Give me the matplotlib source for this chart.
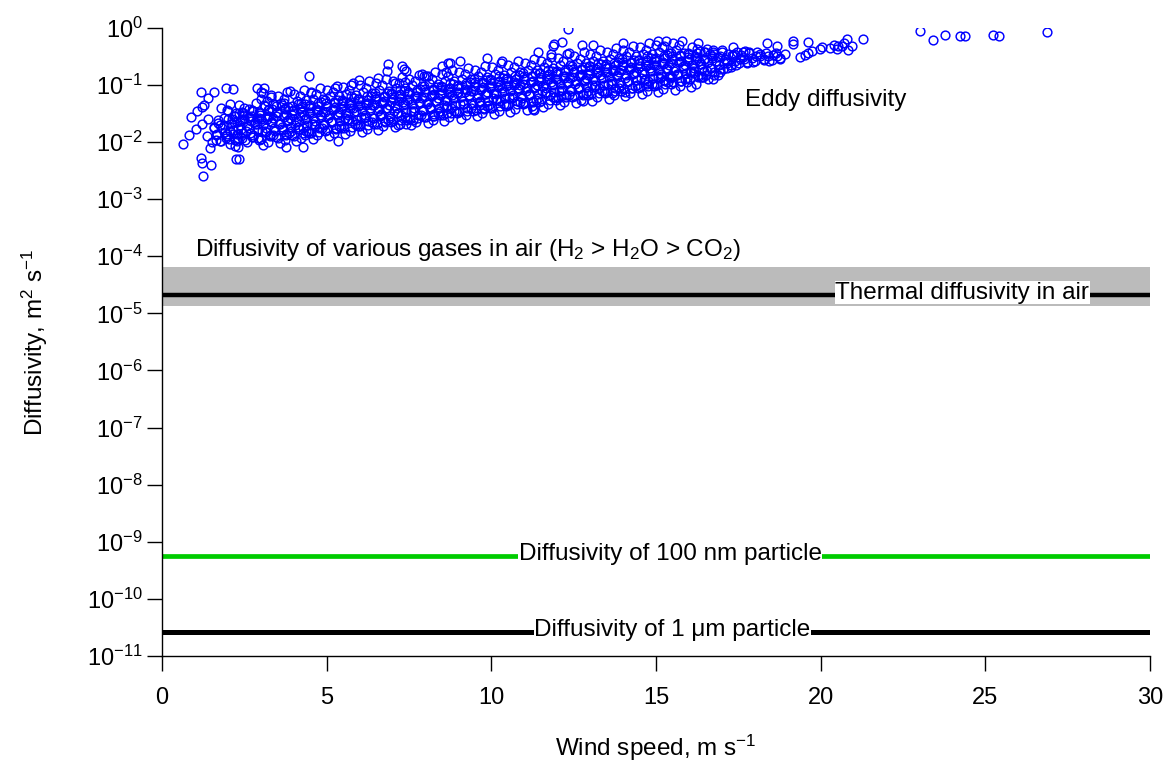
import numpy as np
import matplotlib.pyplot as plt
from matplotlib.ticker import NullLocator

plt.rcParams['font.family'] = ['Liberation Sans', 'DejaVu Sans']
plt.rcParams['mathtext.fontset'] = 'custom'
plt.rcParams['mathtext.rm'] = 'Liberation Sans'
plt.rcParams['mathtext.it'] = 'Liberation Sans:italic'
plt.rcParams['mathtext.bf'] = 'Liberation Sans:bold'

# eddy diffusivity: scattered points away from the main cloud (wind speed, m2/s)
eddy_sparse = [
    (0.64, 0.0092), (0.82, 0.013), (0.88, 0.027), (1.03, 0.017), (1.06, 0.035), (1.18, 0.075),
    (1.21, 0.041), (1.21, 0.021), (1.18, 0.0052), (1.21, 0.0043), (1.25, 0.0025), (1.28, 0.044),
    (1.37, 0.0127), (1.40, 0.025), (1.40, 0.059), (1.46, 0.0078), (1.49, 0.0040), (1.58, 0.075),
    (1.58, 0.0175), (1.64, 0.0108), (1.79, 0.039), (1.94, 0.088), (2.16, 0.085), (2.06, 0.046),
    (1.97, 0.014), (2.22, 0.0085), (2.31, 0.0082), (2.25, 0.0050), (2.34, 0.0050), (2.43, 0.034),
    (2.28, 0.0136), (2.88, 0.088), (3.01, 0.075), (3.10, 0.088), (3.07, 0.072), (3.01, 0.0112),
    (3.31, 0.061), (3.37, 0.046), (3.89, 0.078), (3.77, 0.0082), (3.70, 0.048), (4.28, 0.0082),
    (4.34, 0.013), (4.46, 0.143), (4.52, 0.072),
    (6.86, 0.23), (6.83, 0.174), (7.29, 0.21), (7.35, 0.19), (7.41, 0.174), (6.56, 0.132),
    (5.98, 0.121), (5.74, 0.099), (5.25, 0.088), (5.34, 0.0103), (7.90, 0.155), (8.08, 0.143),
    (7.96, 0.143), (8.50, 0.21), (8.62, 0.167), (8.69, 0.24), (7.38, 0.112), (7.08, 0.107),
    (7.17, 0.020), (7.41, 0.021), (7.62, 0.024), (8.23, 0.028), (8.65, 0.032),
    (11.90, 0.52), (11.86, 0.47), (12.16, 0.57), (12.75, 0.50), (13.08, 0.50), (9.86, 0.30),
    (9.05, 0.26), (8.75, 0.24), (11.43, 0.37), (11.81, 0.34), (12.36, 0.36), (11.28, 0.038),
    (10.95, 0.049), (12.79, 0.052), (12.12, 0.064), (9.66, 0.044), (12.34, 0.94), (10.32, 0.26),
    (11.30, 0.036), (15.05, 0.59), (15.23, 0.48), (15.78, 0.58), (16.29, 0.55), (16.54, 0.42),
    (15.23, 0.121), (15.73, 0.117), (16.41, 0.139), (16.95, 0.166), (17.35, 0.46), (17.65, 0.38),
    (14.0, 0.55), (17.15, 0.20), (14.06, 0.076), (13.66, 0.071), (14.72, 0.102), (15.48, 0.139),
    (16.03, 0.170),
    (18.38, 0.53), (18.68, 0.47), (19.15, 0.59), (19.17, 0.51), (19.60, 0.57), (19.37, 0.31),
    (19.53, 0.33), (19.61, 0.36), (19.75, 0.39), (19.98, 0.42), (20.05, 0.46), (20.28, 0.44),
    (20.39, 0.50), (20.49, 0.42), (20.54, 0.48), (20.64, 0.47), (20.72, 0.53), (20.79, 0.63),
    (20.84, 0.41), (20.96, 0.47), (21.30, 0.63),
    (23.02, 0.88), (23.40, 0.61), (23.76, 0.74), (24.23, 0.72), (24.39, 0.72), (25.24, 0.76),
    (25.40, 0.72), (26.87, 0.84),
]

# eddy diffusivity: the dense cloud, read strip by strip
eddy_cloud = [
    (1.52, 0.010), (1.66, 0.014), (1.58, 0.018), (1.70, 0.024),
    (1.80, 0.0105), (1.91, 0.015), (1.77, 0.020), (1.88, 0.026),
    (2.02, 0.0112), (2.16, 0.016), (2.08, 0.021), (2.20, 0.028), (1.99, 0.035),
    (2.30, 0.0117), (2.41, 0.0166), (2.27, 0.022), (2.44, 0.025), (2.33, 0.032),
    (2.52, 0.011), (2.66, 0.0145), (2.58, 0.019), (2.70, 0.0235), (2.49, 0.030), (2.63, 0.038),
    (2.77, 0.012), (2.91, 0.0166), (2.83, 0.021), (2.95, 0.026), (2.74, 0.035),
    (3.02, 0.0112), (3.16, 0.0151), (3.08, 0.020), (3.20, 0.025), (2.99, 0.032), (3.13, 0.042),
    (3.27, 0.0126), (3.41, 0.0174), (3.33, 0.022), (3.45, 0.028), (3.24, 0.037),
    (3.52, 0.0117), (3.66, 0.016), (3.58, 0.021), (3.70, 0.027), (3.49, 0.033), (3.63, 0.044),
    (3.77, 0.0132), (3.91, 0.0186), (3.83, 0.024), (3.95, 0.030), (3.74, 0.040),
    (4.02, 0.0126), (4.16, 0.0166), (4.08, 0.0224), (4.20, 0.028), (3.99, 0.035), (4.13, 0.047),
    (4.27, 0.0141), (4.41, 0.020), (4.33, 0.025), (4.45, 0.032), (4.24, 0.042), (4.38, 0.054),
    (4.52, 0.0145), (4.66, 0.019), (4.58, 0.026), (4.70, 0.034), (4.49, 0.044),
    (4.77, 0.0151), (4.91, 0.021), (4.83, 0.0275), (4.95, 0.033), (4.74, 0.042), (4.88, 0.056),
    (5.02, 0.016), (5.16, 0.0224), (5.08, 0.0295), (5.20, 0.036), (4.99, 0.048),
    (5.27, 0.0166), (5.41, 0.023), (5.33, 0.030), (5.45, 0.038), (5.24, 0.048), (5.38, 0.063),
    (5.52, 0.0174), (5.66, 0.025), (5.58, 0.032), (5.70, 0.040), (5.49, 0.052),
    (5.77, 0.018), (5.91, 0.024), (5.83, 0.033), (5.95, 0.042), (5.74, 0.050), (5.88, 0.066),
    (6.02, 0.019), (6.16, 0.027), (6.08, 0.035), (6.20, 0.044), (5.99, 0.056),
    (6.27, 0.020), (6.41, 0.026), (6.33, 0.036), (6.45, 0.045), (6.24, 0.055), (6.38, 0.072),
    (6.52, 0.021), (6.66, 0.0295), (6.58, 0.038), (6.70, 0.048), (6.49, 0.063),
    (6.77, 0.022), (6.91, 0.029), (6.83, 0.040), (6.95, 0.050), (6.74, 0.060), (6.88, 0.079),
    (7.02, 0.023), (7.16, 0.032), (7.08, 0.042), (7.20, 0.052), (6.99, 0.069),
    (7.27, 0.024), (7.41, 0.033), (7.33, 0.044), (7.45, 0.055), (7.24, 0.068), (7.38, 0.087),
    (7.52, 0.025), (7.66, 0.035), (7.58, 0.046), (7.70, 0.058), (7.49, 0.076),
    (7.77, 0.026), (7.91, 0.036), (7.83, 0.048), (7.95, 0.060), (7.74, 0.074), (7.88, 0.095),
    (8.02, 0.0275), (8.16, 0.039), (8.08, 0.050), (8.20, 0.063), (7.99, 0.083),
    (8.27, 0.029), (8.41, 0.040), (8.33, 0.052), (8.45, 0.066), (8.24, 0.081), (8.38, 0.105),
    (8.52, 0.030), (8.66, 0.043), (8.58, 0.055), (8.70, 0.069), (8.49, 0.091),
    (8.77, 0.032), (8.91, 0.044), (8.83, 0.058), (8.95, 0.072), (8.74, 0.089), (8.88, 0.115),
    (9.02, 0.033), (9.16, 0.047), (9.08, 0.060), (9.20, 0.076), (8.99, 0.100),
    (9.27, 0.035), (9.41, 0.048), (9.33, 0.063), (9.45, 0.079), (9.24, 0.098), (9.38, 0.126),
    (9.52, 0.036), (9.66, 0.051), (9.58, 0.066), (9.70, 0.083), (9.49, 0.110),
    (9.77, 0.038), (9.91, 0.052), (9.83, 0.069), (9.95, 0.087), (9.74, 0.107), (9.88, 0.138),
    (10.02, 0.040), (10.16, 0.056), (10.08, 0.072), (10.20, 0.091), (9.99, 0.120),
    (10.27, 0.042), (10.41, 0.058), (10.33, 0.076), (10.45, 0.095), (10.24, 0.117), (10.38, 0.151),
    (10.52, 0.044), (10.66, 0.062), (10.58, 0.079), (10.70, 0.100), (10.49, 0.132),
    (10.77, 0.046), (10.91, 0.063), (10.83, 0.083), (10.95, 0.105), (10.74, 0.129), (10.88, 0.166),
    (11.02, 0.048), (11.16, 0.068), (11.08, 0.087), (11.20, 0.110), (10.99, 0.145),
    (11.27, 0.050), (11.41, 0.069), (11.33, 0.091), (11.45, 0.115), (11.24, 0.141), (11.38, 0.182),
    (11.52, 0.052), (11.66, 0.074), (11.58, 0.095), (11.70, 0.120), (11.49, 0.158),
    (11.77, 0.055), (11.91, 0.076), (11.83, 0.100), (11.95, 0.126), (11.74, 0.155), (11.88, 0.200),
    (12.02, 0.058), (12.16, 0.081), (12.08, 0.105), (12.20, 0.132), (11.99, 0.174),
    (12.27, 0.060), (12.41, 0.083), (12.33, 0.110), (12.45, 0.138), (12.24, 0.170), (12.38, 0.220),
    (12.52, 0.063), (12.66, 0.089), (12.58, 0.115), (12.70, 0.145), (12.49, 0.190),
    (12.77, 0.066), (12.91, 0.091), (12.83, 0.120), (12.95, 0.151), (12.74, 0.186), (12.88, 0.240),
    (13.02, 0.069), (13.16, 0.098), (13.08, 0.126), (13.20, 0.158), (12.99, 0.210),
    (13.27, 0.072), (13.41, 0.100), (13.33, 0.132), (13.45, 0.166), (13.24, 0.204), (13.38, 0.263),
    (13.52, 0.076), (13.66, 0.107), (13.58, 0.138), (13.70, 0.174), (13.49, 0.230),
    (13.77, 0.079), (13.91, 0.110), (13.83, 0.145), (13.95, 0.182), (13.74, 0.224), (13.88, 0.290),
    (14.02, 0.083), (14.16, 0.117), (14.08, 0.151), (14.20, 0.190), (13.99, 0.250),
    (14.27, 0.087), (14.41, 0.120), (14.33, 0.158), (14.45, 0.200), (14.24, 0.245), (14.38, 0.320),
    (14.52, 0.091), (14.66, 0.129), (14.58, 0.166), (14.70, 0.210), (14.49, 0.275),
    (14.77, 0.095), (14.91, 0.132), (14.83, 0.174), (14.95, 0.220), (14.74, 0.270), (14.88, 0.340),
    (15.02, 0.100), (15.16, 0.141), (15.08, 0.182), (15.20, 0.230), (14.99, 0.300),
    (15.27, 0.105), (15.41, 0.145), (15.33, 0.190), (15.45, 0.240), (15.24, 0.295), (15.38, 0.360),
    (15.52, 0.112), (15.66, 0.155), (15.58, 0.200), (15.70, 0.250), (15.49, 0.320),
    (15.77, 0.117), (15.91, 0.158), (15.83, 0.210), (15.95, 0.263), (15.74, 0.330),
    (16.02, 0.126), (16.16, 0.174), (16.08, 0.220), (16.20, 0.275), (15.99, 0.347),
    (16.27, 0.138), (16.41, 0.186), (16.33, 0.230), (16.45, 0.280), (16.24, 0.355),
    (16.52, 0.148), (16.66, 0.200), (16.58, 0.250), (16.70, 0.300), (16.49, 0.370),
    (16.77, 0.166), (16.91, 0.220), (16.83, 0.263), (16.95, 0.320), (16.74, 0.380),
    (17.02, 0.190), (17.16, 0.240), (17.08, 0.280), (17.20, 0.340), (16.99, 0.400),
    (17.27, 0.220), (17.41, 0.263), (17.33, 0.320), (17.45, 0.380),
    (17.52, 0.240), (17.66, 0.280), (17.58, 0.330), (17.70, 0.390),
    (17.77, 0.250), (17.91, 0.300), (17.83, 0.355),
    (18.02, 0.263), (18.16, 0.320), (18.08, 0.370),
    (18.27, 0.275), (18.41, 0.320), (18.33, 0.363),
    (18.52, 0.270), (18.66, 0.324),
    (18.77, 0.280), (18.91, 0.347),
]

# eddy diffusivity: second pass over the cloud, points lying between the strips above
eddy_cloud_fill = [
    (1.77, 0.0102), (1.65, 0.0134), (1.81, 0.0173), (1.69, 0.0218),
    (1.93, 0.0117), (2.05, 0.0154), (1.88, 0.0199), (2.00, 0.025),
    (2.27, 0.0104), (2.15, 0.0137), (2.31, 0.0177), (2.19, 0.0222), (2.23, 0.0286),
    (2.43, 0.0117), (2.55, 0.0154), (2.38, 0.0198), (2.50, 0.0249), (2.46, 0.0321),
    (2.77, 0.0134), (2.65, 0.0176), (2.81, 0.0227), (2.69, 0.0286), (2.73, 0.0368),
    (2.93, 0.0119), (3.05, 0.0157), (2.88, 0.0202), (3.00, 0.0255), (2.96, 0.0328),
    (3.27, 0.0133), (3.15, 0.0176), (3.31, 0.0226), (3.19, 0.0285), (3.23, 0.0367),
    (3.43, 0.0153), (3.55, 0.0202), (3.38, 0.026), (3.50, 0.0327), (3.46, 0.0422),
    (3.77, 0.0136), (3.65, 0.0179), (3.81, 0.0231), (3.69, 0.0291), (3.73, 0.0375),
    (3.93, 0.0153), (4.05, 0.0201), (3.88, 0.0259), (4.00, 0.0327), (3.96, 0.0421),
    (4.27, 0.0175), (4.15, 0.0231), (4.31, 0.0297), (4.19, 0.0374), (4.23, 0.0482),
    (4.43, 0.0156), (4.55, 0.0206), (4.38, 0.0265), (4.50, 0.0333), (4.46, 0.043),
    (4.77, 0.0175), (4.65, 0.023), (4.81, 0.0296), (4.69, 0.0373), (4.73, 0.0481),
    (4.93, 0.020), (5.05, 0.0264), (4.88, 0.034), (5.00, 0.0429), (4.96, 0.0552),
    (5.27, 0.0178), (5.15, 0.0235), (5.31, 0.0303), (5.19, 0.0381), (5.23, 0.0491),
    (5.43, 0.020), (5.55, 0.0264), (5.38, 0.034), (5.50, 0.0428), (5.46, 0.0551),
    (5.77, 0.0229), (5.65, 0.0302), (5.81, 0.0389), (5.69, 0.049), (5.73, 0.0631),
    (5.93, 0.0204), (6.05, 0.0269), (5.88, 0.0347), (6.00, 0.0437), (5.96, 0.0562),
    (6.27, 0.0229), (6.15, 0.0301), (6.31, 0.0388), (6.19, 0.0489), (6.23, 0.063),
    (6.43, 0.0262), (6.55, 0.0346), (6.38, 0.0446), (6.50, 0.0561), (6.46, 0.0723),
    (6.77, 0.0233), (6.65, 0.0308), (6.81, 0.0396), (6.69, 0.0499), (6.73, 0.0643),
    (6.93, 0.0262), (7.05, 0.0345), (6.88, 0.0445), (7.00, 0.056), (6.96, 0.0721),
    (7.27, 0.030), (7.15, 0.0395), (7.31, 0.0509), (7.19, 0.0641), (7.23, 0.0826),
    (7.43, 0.0267), (7.55, 0.0352), (7.38, 0.0454), (7.50, 0.0571), (7.46, 0.0736),
    (7.77, 0.0299), (7.65, 0.0394), (7.81, 0.0508), (7.69, 0.064), (7.73, 0.0824),
    (7.93, 0.0344), (8.05, 0.0453), (7.88, 0.0583), (8.00, 0.0735), (7.96, 0.0946),
    (8.27, 0.0305), (8.15, 0.0403), (8.31, 0.0519), (8.19, 0.0653), (8.23, 0.0841),
    (8.43, 0.0343), (8.55, 0.0452), (8.38, 0.0582), (8.50, 0.0733), (8.46, 0.0944),
    (8.77, 0.0393), (8.65, 0.0518), (8.81, 0.0667), (8.69, 0.0839), (8.73, 0.108),
    (8.93, 0.035), (9.05, 0.0461), (8.88, 0.0594), (9.00, 0.0748), (8.96, 0.0964),
    (9.27, 0.0392), (9.15, 0.0516), (9.31, 0.0665), (9.19, 0.0837), (9.23, 0.108),
    (9.43, 0.045), (9.55, 0.0593), (9.38, 0.0764), (9.50, 0.0962), (9.46, 0.124),
    (9.77, 0.040), (9.65, 0.0527), (9.81, 0.0679), (9.69, 0.0855), (9.73, 0.110),
    (9.93, 0.0449), (10.05, 0.0592), (9.88, 0.0762), (10.00, 0.0959), (9.96, 0.124),
    (10.27, 0.0514), (10.15, 0.0678), (10.31, 0.0873), (10.19, 0.110), (10.23, 0.142),
    (10.43, 0.0458), (10.55, 0.0604), (10.38, 0.0778), (10.50, 0.098), (10.46, 0.126),
    (10.77, 0.0513), (10.65, 0.0676), (10.81, 0.0871), (10.69, 0.110), (10.73, 0.141),
    (10.93, 0.0589), (11.05, 0.0776), (10.88, 0.100), (11.00, 0.126), (10.96, 0.162),
    (11.27, 0.0524), (11.15, 0.069), (11.31, 0.0889), (11.19, 0.112), (11.23, 0.144),
    (11.43, 0.0588), (11.55, 0.0774), (11.38, 0.0998), (11.50, 0.126), (11.46, 0.162),
    (11.77, 0.0673), (11.65, 0.0887), (11.81, 0.114), (11.69, 0.144), (11.73, 0.185),
    (11.93, 0.060), (12.05, 0.0791), (11.88, 0.102), (12.00, 0.128), (11.96, 0.165),
    (12.27, 0.0671), (12.15, 0.0885), (12.31, 0.114), (12.19, 0.144), (12.23, 0.185),
    (12.43, 0.0771), (12.55, 0.102), (12.38, 0.131), (12.50, 0.165), (12.46, 0.212),
    (12.77, 0.0686), (12.65, 0.0904), (12.81, 0.116), (12.69, 0.147), (12.73, 0.189),
    (12.93, 0.0769), (13.05, 0.101), (12.88, 0.131), (13.00, 0.164), (12.96, 0.212),
    (13.27, 0.0881), (13.15, 0.116), (13.31, 0.150), (13.19, 0.188), (13.23, 0.243),
    (13.43, 0.0785), (13.55, 0.104), (13.38, 0.133), (13.50, 0.168), (13.46, 0.216),
    (13.77, 0.0879), (13.65, 0.116), (13.81, 0.149), (13.69, 0.188), (13.73, 0.242),
    (13.93, 0.101), (14.05, 0.133), (13.88, 0.171), (14.00, 0.216), (13.96, 0.278),
    (14.27, 0.0897), (14.15, 0.118), (14.31, 0.152), (14.19, 0.192), (14.23, 0.247),
    (14.43, 0.101), (14.55, 0.133), (14.38, 0.171), (14.50, 0.215), (14.46, 0.277),
    (14.77, 0.115), (14.65, 0.152), (14.81, 0.196), (14.69, 0.247), (14.73, 0.318),
    (14.93, 0.103), (15.05, 0.136), (14.88, 0.175), (15.00, 0.220), (14.96, 0.283),
    (15.27, 0.115), (15.15, 0.152), (15.31, 0.195), (15.19, 0.246), (15.23, 0.317),
    (15.43, 0.132), (15.55, 0.174), (15.38, 0.224), (15.50, 0.282), (15.46, 0.364),
    (15.77, 0.117), (15.65, 0.155), (15.81, 0.200), (15.69, 0.251), (15.73, 0.324),
    (15.93, 0.132), (16.05, 0.174), (15.88, 0.224), (16.00, 0.282), (15.96, 0.363),
    (16.27, 0.151), (16.15, 0.199), (16.31, 0.256), (16.19, 0.323), (16.23, 0.416),
    (16.43, 0.135), (16.55, 0.177), (16.38, 0.229), (16.50, 0.288), (16.46, 0.371),
    (16.77, 0.151), (16.65, 0.199), (16.81, 0.256), (16.69, 0.322), (16.73, 0.415),
    (16.93, 0.190), (17.05, 0.239), (16.88, 0.301), (17.00, 0.378),
    (17.27, 0.207), (17.15, 0.261), (17.31, 0.329),
    (17.43, 0.222), (17.55, 0.280), (17.38, 0.352),
    (17.77, 0.243), (17.65, 0.306), (17.81, 0.377),
    (17.93, 0.255), (18.05, 0.321),
    (18.27, 0.279), (18.15, 0.351),
    (18.43, 0.266), (18.55, 0.335),
    (18.77, 0.291), (18.65, 0.366),
]

# eddy diffusivity: third pass, the fuzzy upper and lower edges of the cloud
eddy_cloud_edge = [
    (2.07, 0.0092), (1.95, 0.0129), (2.13, 0.0252), (1.98, 0.0365),
    (2.22, 0.011), (2.37, 0.0235), (2.25, 0.0317), (2.34, 0.0438),
    (2.57, 0.010), (2.45, 0.0142), (2.63, 0.0276), (2.48, 0.040),
    (2.72, 0.012), (2.87, 0.0257), (2.75, 0.0347), (2.84, 0.0479),
    (3.07, 0.0087), (2.95, 0.011), (3.13, 0.0155), (2.98, 0.0302), (3.10, 0.0437), (3.01, 0.0575),
    (3.22, 0.010), (3.37, 0.0132), (3.25, 0.0281), (3.34, 0.0379), (3.19, 0.0524), (3.30, 0.0675),
    (3.57, 0.0095), (3.45, 0.012), (3.63, 0.0169), (3.48, 0.033), (3.60, 0.0478), (3.51, 0.063),
    (3.72, 0.0109), (3.87, 0.0144), (3.75, 0.0308), (3.84, 0.0415), (3.69, 0.0573), (3.80, 0.0738),
    (4.07, 0.0104), (3.95, 0.0131), (4.13, 0.0185), (3.98, 0.0361), (4.10, 0.0522), (4.01, 0.0689),
    (4.22, 0.0119), (4.37, 0.0157), (4.25, 0.0337), (4.34, 0.0454), (4.19, 0.0627), (4.30, 0.0807),
    (4.57, 0.0114), (4.45, 0.0144), (4.63, 0.0203), (4.48, 0.0395), (4.60, 0.0571), (4.51, 0.0753),
    (4.72, 0.0131), (4.87, 0.0172), (4.75, 0.0368), (4.84, 0.0497), (4.69, 0.0686), (4.80, 0.0883),
    (5.07, 0.0125), (4.95, 0.0157), (5.13, 0.0222), (4.98, 0.0433), (5.10, 0.0625), (5.01, 0.0824),
    (5.22, 0.0143), (5.37, 0.0188), (5.25, 0.0403), (5.34, 0.0543), (5.19, 0.075), (5.30, 0.0966),
    (5.57, 0.0136), (5.45, 0.0172), (5.63, 0.0243), (5.48, 0.0473), (5.60, 0.0684), (5.51, 0.0902),
    (5.72, 0.0156), (5.87, 0.0206), (5.75, 0.0441), (5.84, 0.0594), (5.69, 0.082), (5.80, 0.106),
    (6.07, 0.0149), (5.95, 0.0188), (6.13, 0.0265), (5.98, 0.0518), (6.10, 0.0748), (6.01, 0.0987),
    (6.22, 0.0171), (6.37, 0.0225), (6.25, 0.0482), (6.34, 0.065), (6.19, 0.0897), (6.30, 0.116),
    (6.57, 0.0163), (6.45, 0.0206), (6.63, 0.029), (6.48, 0.0566), (6.60, 0.0818), (6.51, 0.108),
    (6.72, 0.0187), (6.87, 0.0247), (6.75, 0.0527), (6.84, 0.0711), (6.69, 0.0982), (6.80, 0.126),
    (7.07, 0.0179), (6.95, 0.0225), (7.13, 0.0318), (6.98, 0.0619), (7.10, 0.0895), (7.01, 0.118),
    (7.22, 0.0205), (7.37, 0.027), (7.25, 0.0577), (7.34, 0.0778), (7.19, 0.107), (7.30, 0.138),
    (7.57, 0.0195), (7.45, 0.0246), (7.63, 0.0348), (7.48, 0.0678), (7.60, 0.098), (7.51, 0.129),
    (7.72, 0.0224), (7.87, 0.0295), (7.75, 0.0631), (7.84, 0.0851), (7.69, 0.117), (7.80, 0.151),
    (8.07, 0.0214), (7.95, 0.0269), (8.13, 0.038), (7.98, 0.0741), (8.10, 0.107), (8.01, 0.141),
    (8.22, 0.0245), (8.37, 0.0323), (8.25, 0.069), (8.34, 0.0931), (8.19, 0.129), (8.30, 0.166),
    (8.57, 0.0234), (8.45, 0.0294), (8.63, 0.0416), (8.48, 0.0811), (8.60, 0.117), (8.51, 0.155),
    (8.72, 0.0268), (8.87, 0.0353), (8.75, 0.0755), (8.84, 0.102), (8.69, 0.141), (8.80, 0.181),
    (9.07, 0.0256), (8.95, 0.0322), (9.13, 0.0455), (8.98, 0.0887), (9.10, 0.128), (9.01, 0.169),
    (9.22, 0.0293), (9.37, 0.0386), (9.25, 0.0826), (9.34, 0.111), (9.19, 0.154), (9.30, 0.198),
    (9.57, 0.028), (9.45, 0.0352), (9.63, 0.0498), (9.48, 0.097), (9.60, 0.140), (9.51, 0.185),
    (9.72, 0.0321), (9.87, 0.0423), (9.75, 0.0904), (9.84, 0.122), (9.69, 0.168), (9.80, 0.217),
    (10.07, 0.0306), (9.95, 0.0385), (10.13, 0.0545), (9.98, 0.106), (10.10, 0.153), (10.01, 0.202),
    (10.22, 0.0351), (10.37, 0.0462), (10.25, 0.0989), (10.34, 0.133), (10.19, 0.184), (10.30, 0.237),
    (10.57, 0.0335), (10.45, 0.0422), (10.63, 0.0596), (10.48, 0.116), (10.60, 0.168), (10.51, 0.221),
    (10.72, 0.0384), (10.87, 0.0506), (10.75, 0.108), (10.84, 0.146), (10.69, 0.201), (10.80, 0.259),
    (11.07, 0.0366), (10.95, 0.0461), (11.13, 0.0652), (10.98, 0.127), (11.10, 0.184), (11.01, 0.242),
    (11.22, 0.042), (11.37, 0.0553), (11.25, 0.118), (11.34, 0.160), (11.19, 0.220), (11.30, 0.284),
    (11.57, 0.0401), (11.45, 0.0505), (11.63, 0.0713), (11.48, 0.139), (11.60, 0.201), (11.51, 0.265),
    (11.72, 0.0459), (11.87, 0.0605), (11.75, 0.129), (11.84, 0.175), (11.69, 0.241), (11.80, 0.310),
    (12.07, 0.0439), (11.95, 0.0552), (12.13, 0.078), (11.98, 0.152), (12.10, 0.220), (12.01, 0.290),
    (12.22, 0.0502), (12.37, 0.0662), (12.25, 0.142), (12.34, 0.191), (12.19, 0.264), (12.30, 0.340),
    (12.57, 0.048), (12.45, 0.0604), (12.63, 0.0853), (12.48, 0.166), (12.60, 0.240), (12.51, 0.317),
    (12.72, 0.055), (12.87, 0.0724), (12.75, 0.155), (12.84, 0.209), (12.69, 0.288), (12.80, 0.372),
    (13.07, 0.0525), (12.95, 0.0661), (13.13, 0.0933), (12.98, 0.182), (13.10, 0.263), (13.01, 0.347),
    (13.22, 0.0601), (13.37, 0.0793), (13.25, 0.169), (13.34, 0.229), (13.19, 0.316), (13.30, 0.406),
    (13.57, 0.0574), (13.45, 0.0723), (13.63, 0.102), (13.48, 0.199), (13.60, 0.288), (13.51, 0.379),
    (13.72, 0.0658), (13.87, 0.0867), (13.75, 0.185), (13.84, 0.250), (13.69, 0.345), (13.80, 0.445),
    (14.07, 0.0628), (13.95, 0.0791), (14.13, 0.112), (13.98, 0.218), (14.10, 0.315), (14.01, 0.415),
    (14.22, 0.0719), (14.37, 0.0948), (14.25, 0.203), (14.34, 0.274), (14.19, 0.378), (14.30, 0.486),
    (14.57, 0.0687), (14.45, 0.0865), (14.63, 0.122), (14.48, 0.238), (14.60, 0.344), (14.51, 0.454),
    (14.72, 0.0787), (14.87, 0.104), (14.75, 0.222), (14.84, 0.299), (14.69, 0.413), (14.80, 0.532),
    (15.07, 0.0752), (14.95, 0.0946), (15.13, 0.134), (14.98, 0.261), (15.10, 0.377), (15.01, 0.497),
    (15.22, 0.0861), (15.37, 0.114), (15.25, 0.243), (15.34, 0.327), (15.19, 0.452), (15.30, 0.582),
    (15.57, 0.0822), (15.45, 0.104), (15.63, 0.146), (15.48, 0.285), (15.60, 0.412), (15.51, 0.543),
    (15.72, 0.0942), (15.87, 0.124), (15.75, 0.265), (15.84, 0.358), (15.69, 0.494),
    (16.07, 0.0899), (15.95, 0.113), (16.13, 0.160), (15.98, 0.312), (16.10, 0.451),
    (16.22, 0.103), (16.37, 0.136), (16.25, 0.290), (16.34, 0.392),
    (16.57, 0.124), (16.45, 0.175), (16.63, 0.341),
    (16.72, 0.129), (16.87, 0.149), (16.75, 0.348),
]

# reference diffusivities, m2/s
gas_low, gas_high = 1.34e-5, 6.4e-5      # CO2 ... H2 in air
thermal_air = 2.08e-5
particle_100nm = 5.6e-10
particle_1um = 2.6e-11
wind_range = [0, 30]

pts = np.array(eddy_sparse + eddy_cloud + eddy_cloud_fill + eddy_cloud_edge)
u, d = pts[:, 0], pts[:, 1]

fig = plt.figure(figsize=(11.68, 7.63), dpi=100)
ax = fig.add_axes([0.1387, 0.1402, 0.8459, 0.8235])

ax.fill_between(wind_range, gas_low, gas_high, color='#bbbbbb', lw=0, zorder=1)
ax.plot(wind_range, [thermal_air] * 2, color='black', lw=3.2, zorder=2)
ax.plot(wind_range, [particle_100nm] * 2, color='#00cc00', lw=3.4, zorder=2)
ax.plot(wind_range, [particle_1um] * 2, color='black', lw=3.6, zorder=2)

ax.plot(u, d, 'o', mfc='none', mec='#0000ff', ms=6.3, mew=1.05, zorder=3)

box = dict(facecolor='white', edgecolor='none', pad=0.5)
fs = 17.5
ax.text(1.0, 1.28e-4, 'Diffusivity of various gases in air (H$_\\mathregular{2}$ > H$_\\mathregular{2}$O > CO$_\\mathregular{2}$)',
        fontsize=fs, va='center', ha='left')
ax.text(24.3, 2.3e-5, 'Thermal diffusivity in air', fontsize=fs, va='center', ha='center', bbox=box, zorder=4)
ax.text(15.43, 6.0e-10, 'Diffusivity of 100 nm particle', fontsize=fs, va='center', ha='center', bbox=box, zorder=4)
ax.text(15.5, 2.8e-11, 'Diffusivity of 1 \u03bcm particle', fontsize=fs, va='center', ha='center', bbox=box, zorder=4)
ax.text(17.7, 0.054, 'Eddy diffusivity', fontsize=fs, va='center', ha='left')

ax.set_yscale('log')
ax.set_ylim(1e-11, 1)
ax.set_xlim(0, 30)
ax.set_yticks([10.0 ** k for k in range(-11, 1)])
ax.yaxis.set_minor_locator(NullLocator())
ax.set_xticks([0, 5, 10, 15, 20, 25, 30])

for s in ['top', 'right']:
    ax.spines[s].set_visible(False)
for s in ['left', 'bottom']:
    ax.spines[s].set_linewidth(1.0)
ax.tick_params(direction='out', length=11, width=1.0, labelsize=17)
ax.tick_params(axis='x', pad=11)
ax.tick_params(axis='y', pad=3)

ax.set_xlabel('Wind speed, m s$^{\\mathregular{-1}}$', fontsize=fs)
ax.set_ylabel('Diffusivity, m$^{\\mathregular{2}}$ s$^{\\mathregular{-1}}$', fontsize=fs)
ax.xaxis.set_label_coords(0.5, -0.146)
ax.xaxis.label.set_va('center')
ax.yaxis.set_label_coords(-0.1285, 0.5)
ax.yaxis.label.set_va('center')

fig.savefig('out.png', dpi=100)
